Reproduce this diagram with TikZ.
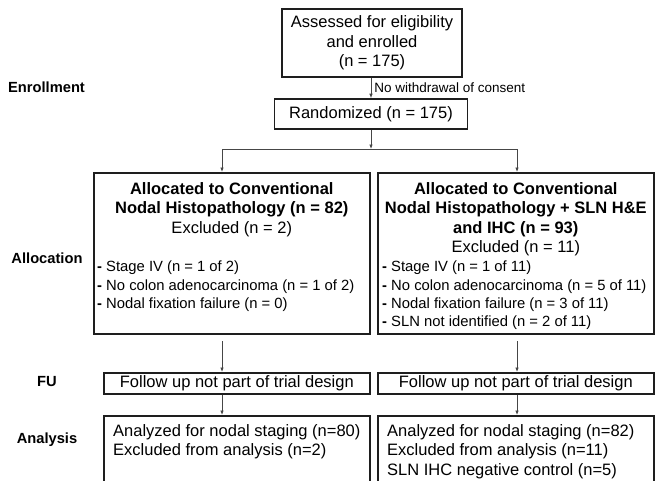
\documentclass[tikz,border=0pt]{standalone}
\usepackage{fontspec}
\setmainfont{Liberation Sans}
\usetikzlibrary{arrows.meta,calc}
\definecolor{boxline}{RGB}{30,30,30}
\definecolor{arrowline}{RGB}{70,70,70}
\tikzset{
  flowbox/.style={
    draw=boxline,
    fill=white,
    line width=1.6pt,
    inner sep=0pt
  },
  flowtext/.style={
    font=\fontsize{16.5}{19.5}\selectfont,
    align=center,
    inner sep=0pt
  },
  listtext/.style={
    font=\fontsize{14.8}{18.3}\selectfont,
    align=left,
    anchor=north west,
    inner sep=0pt
  },
  stagelabel/.style={
    font=\bfseries\fontsize{14.7}{17}\selectfont,
    inner sep=0pt
  },
  edgelabel/.style={
    font=\fontsize{13.5}{16}\selectfont,
    anchor=west,
    inner sep=3pt
  },
  flowarrow/.style={
    draw=arrowline,
    line width=0.8pt,
    -{Latex[length=4.5pt,width=3.6pt]}
  }
}

\begin{document}
\begin{tikzpicture}[x=1pt,y=1pt]

  % Picture frame in pixel units; the analysis boxes run off the lower edge.
  \useasboundingbox (0,0) rectangle (655,-480);
  \clip (0,0) rectangle (655,-480);

  % Stage labels of the left column.
  \node[stagelabel] (enroll)   at (46.5,-87)  {Enrollment};
  \node[stagelabel] (alloc)    at (47,-258)   {Allocation};
  \node[stagelabel] (fu)       at (47,-382)   {FU};
  \node[stagelabel] (analysis) at (47,-440)   {Analysis};

  % Enrollment and randomization.
  \node[flowbox,flowtext,minimum width=180,minimum height=68] (assess) at (372,-43)
    {Assessed for eligibility\\and enrolled\\(n = 175)};
  \node[flowbox,flowtext,minimum width=193,minimum height=30] (random) at (371,-114)
    {Randomized (n = 175)};
  \draw[flowarrow] (assess.south -| random.north) -- node[edgelabel] (consent)
    {No withdrawal of consent} (random.north);

  % Split towards the two study arms.
  \coordinate (split)  at (371,-149);
  \coordinate (splitL) at (222,-149);
  \coordinate (splitR) at (517,-149);
  \draw[flowarrow] (random.south) -- (split);

  % Allocation boxes, with centered headings and left-aligned exclusions.
  \node[flowbox,minimum width=276,minimum height=161,anchor=north west] (allocL) at (93,-172) {};
  \node[flowbox,minimum width=276,minimum height=161,anchor=north west] (allocR) at (377,-172) {};
  \draw[flowarrow] (split) -- (splitL) -- (splitL |- allocL.north);
  \draw[flowarrow] (split) -- (splitR) -- (splitR |- allocR.north);

  \node[flowtext,anchor=north] (allocLhead) at ($(allocL.north)+(0,-10)$)
    {\textbf{Allocated to Conventional}\\\textbf{Nodal Histopathology (n = 82)}\\Excluded (n = 2)};
  \node[listtext] (allocLlist) at ($(allocL.north west)+(4,-89)$)
    {\textbf{-} Stage IV (n = 1 of 2)\\
     \textbf{-} No colon adenocarcinoma (n = 1 of 2)\\
     \textbf{-} Nodal fixation failure (n = 0)};

  \node[flowtext,anchor=north] (allocRhead) at ($(allocR.north)+(0,-10)$)
    {\textbf{Allocated to Conventional}\\\textbf{Nodal Histopathology + SLN H\&E}\\\textbf{and IHC (n = 93)}\\Excluded (n = 11)};
  \node[listtext] (allocRlist) at ($(allocR.north west)+(5,-89)$)
    {\textbf{-} Stage IV (n = 1 of 11)\\
     \textbf{-} No colon adenocarcinoma (n = 5 of 11)\\
     \textbf{-} Nodal fixation failure (n = 3 of 11)\\
     \textbf{-} SLN not identified (n = 2 of 11)};

  % Follow up.
  \node[flowbox,flowtext,minimum width=266,minimum height=21,anchor=north west] (fuL) at (103,-372)
    {Follow up not part of trial design};
  \node[flowbox,flowtext,minimum width=276,minimum height=21,anchor=north west] (fuR) at (377,-372)
    {Follow up not part of trial design};
  \coordinate (stemL) at (222,-341);
  \coordinate (stemR) at (517,-341);
  \draw[flowarrow] (stemL) -- (stemL |- fuL.north);
  \draw[flowarrow] (stemR) -- (stemR |- fuR.north);

  % Analysis.
  \node[flowbox,minimum width=266,minimum height=80,anchor=north west] (anaL) at (103,-415) {};
  \node[flowbox,minimum width=276,minimum height=80,anchor=north west] (anaR) at (377,-415) {};
  \draw[flowarrow] (stemL |- fuL.south) -- (stemL |- anaL.north);
  \draw[flowarrow] (stemR |- fuR.south) -- (stemR |- anaR.north);

  \node[flowtext,align=left,anchor=north west] (anaLtext) at ($(anaL.north west)+(10,-9)$)
    {Analyzed for nodal staging (n=80)\\Excluded from analysis (n=2)};
  \node[flowtext,align=left,anchor=north west] (anaRtext) at ($(anaR.north west)+(10,-9)$)
    {Analyzed for nodal staging (n=82)\\Excluded from analysis (n=11)\\SLN IHC negative control (n=5)};

\end{tikzpicture}
\end{document}
